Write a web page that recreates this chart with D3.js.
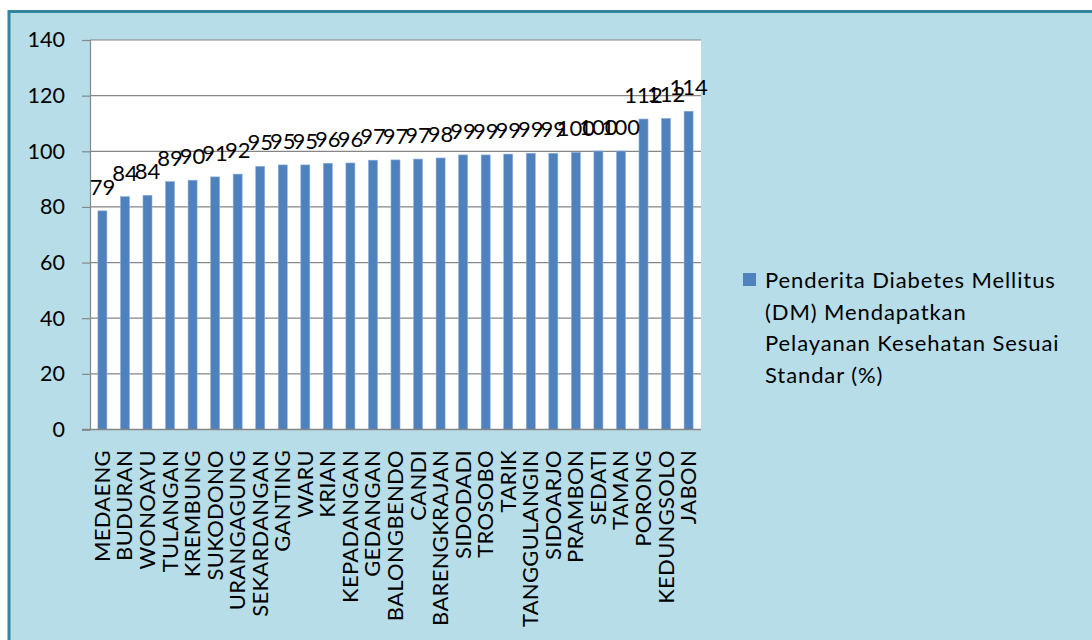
<!DOCTYPE html>
<html>
<head>
<meta charset="utf-8">
<script src="https://cdn.jsdelivr.net/npm/d3@7"></script>
<style>
    body { margin: 0; background: #fff; }
    text { font-family: Lato, "Open Sans", sans-serif; fill: #000; }
</style>
</head>
<body>
<div id="chart"></div>
<script>
// Penderita DM per kecamatan

var kecamatan = ["MEDAENG","BUDURAN","WONOAYU","TULANGAN","KREMBUNG","SUKODONO","URANGAGUNG",
    "SEKARDANGAN","GANTING","WARU","KRIAN","KEPADANGAN","GEDANGAN","BALONGBENDO","CANDI",
    "BARENGKRAJAN","SIDODADI","TROSOBO","TARIK","TANGGULANGIN","SIDOARJO","PRAMBON","SEDATI",
    "TAMAN","PORONG","KEDUNGSOLO","JABON"];
var persen = [78.6, 83.7, 84.2, 89.1, 89.6, 90.8, 91.8, 94.6, 95.1, 95.1, 95.7, 95.8, 96.8, 96.9,
    97.2, 97.6, 98.7, 98.7, 99.0, 99.3, 99.3, 99.6, 100.1, 100.1, 111.6, 111.8, 114.4];
var yTicks = [0, 20, 40, 60, 80, 100, 120, 140];
var legendLines = ["Penderita Diabetes Mellitus", "(DM) Mendapatkan", "Pelayanan Kesehatan Sesuai", "Standar (%)"];

var width = 1092, height = 640;
var plot = {left: 90, right: 701, top: 40, bottom: 429.5};

var svg = d3.select("#chart").append("svg")
    .attr("width", width)
    .attr("height", height);

// frame
svg.append("rect")
    .attr("x", 9).attr("y", 11.5)
    .attr("width", width + 20).attr("height", height + 20)
    .style("fill", "#b7dde8")
    .style("stroke", "#31859c")
    .style("stroke-width", 3);

svg.append("rect")
    .attr("x", plot.left).attr("y", plot.top)
    .attr("width", plot.right - plot.left).attr("height", plot.bottom - plot.top)
    .style("fill", "#fff");

var x = d3.scaleBand()
    .domain(kecamatan)
    .range([plot.left, plot.right])
    .paddingInner(0.6)
    .paddingOuter(0.35);

var y = d3.scaleLinear()
    .domain([0, 140])
    .range([plot.bottom, plot.top]);

// gridlines
svg.selectAll("line.grid")
    .data(yTicks.filter(function(d) { return d > 0; }))
    .enter().append("line")
    .attr("class", "grid")
    .attr("x1", plot.left).attr("x2", plot.right)
    .attr("y1", function(d) { return y(d); })
    .attr("y2", function(d) { return y(d); })
    .style("stroke", "#868686")
    .style("stroke-width", 1.2);

// y axis
var yAxis = svg.append("g")
    .attr("transform", "translate(" + plot.left + ",0)")
    .call(d3.axisLeft(y).tickValues(yTicks).tickSize(8).tickPadding(17));
yAxis.selectAll("line, path").style("stroke", "#868686").style("stroke-width", 1.2);
yAxis.selectAll("text").style("font-size", "21.5px").style("font-family", "Lato, sans-serif").style("fill", "#000");

// bars
svg.selectAll("rect.bar")
    .data(persen)
    .enter().append("rect")
    .attr("class", "bar")
    .attr("x", function(d, i) { return x(kecamatan[i]); })
    .attr("width", x.bandwidth())
    .attr("y", function(d) { return y(d); })
    .attr("height", function(d) { return plot.bottom - y(d); })
    .style("fill", "#4f81bd")
    .style("stroke", "#8fb1dc")
    .style("stroke-width", 0.6);

// x axis line
svg.append("line")
    .attr("x1", plot.left - 8).attr("x2", plot.right)
    .attr("y1", plot.bottom).attr("y2", plot.bottom)
    .style("stroke", "#868686")
    .style("stroke-width", 1.5);

// value labels
svg.selectAll("text.val")
    .data(persen)
    .enter().append("text")
    .attr("class", "val")
    .attr("x", function(d, i) { return x(kecamatan[i]) + x.bandwidth() / 2; })
    .attr("y", function(d) { return y(d) - 16; })
    .attr("text-anchor", "middle")
    .style("font-size", "22px")
    .text(function(d) { return Math.round(d); });

// category labels
svg.selectAll("text.cat")
    .data(kecamatan)
    .enter().append("text")
    .attr("class", "cat")
    .attr("transform", function(d) {
        return "translate(" + (x(d) + x.bandwidth() / 2 + 7.5) + ",450) rotate(-90)";
    })
    .attr("text-anchor", "end")
    .style("font-size", "22px")
    .style("letter-spacing", "0.3px")
    .text(function(d) { return d; });

// legend
svg.append("rect")
    .attr("x", 743).attr("y", 273)
    .attr("width", 13).attr("height", 13)
    .style("fill", "#4f81bd");

svg.selectAll("text.leg")
    .data(legendLines)
    .enter().append("text")
    .attr("class", "leg")
    .attr("x", 765)
    .attr("y", function(d, i) { return 288 + i * 31.5; })
    .style("font-size", "22px")
    .style("letter-spacing", "0.9px")
    .text(function(d) { return d; });
</script>
</body>
</html>
